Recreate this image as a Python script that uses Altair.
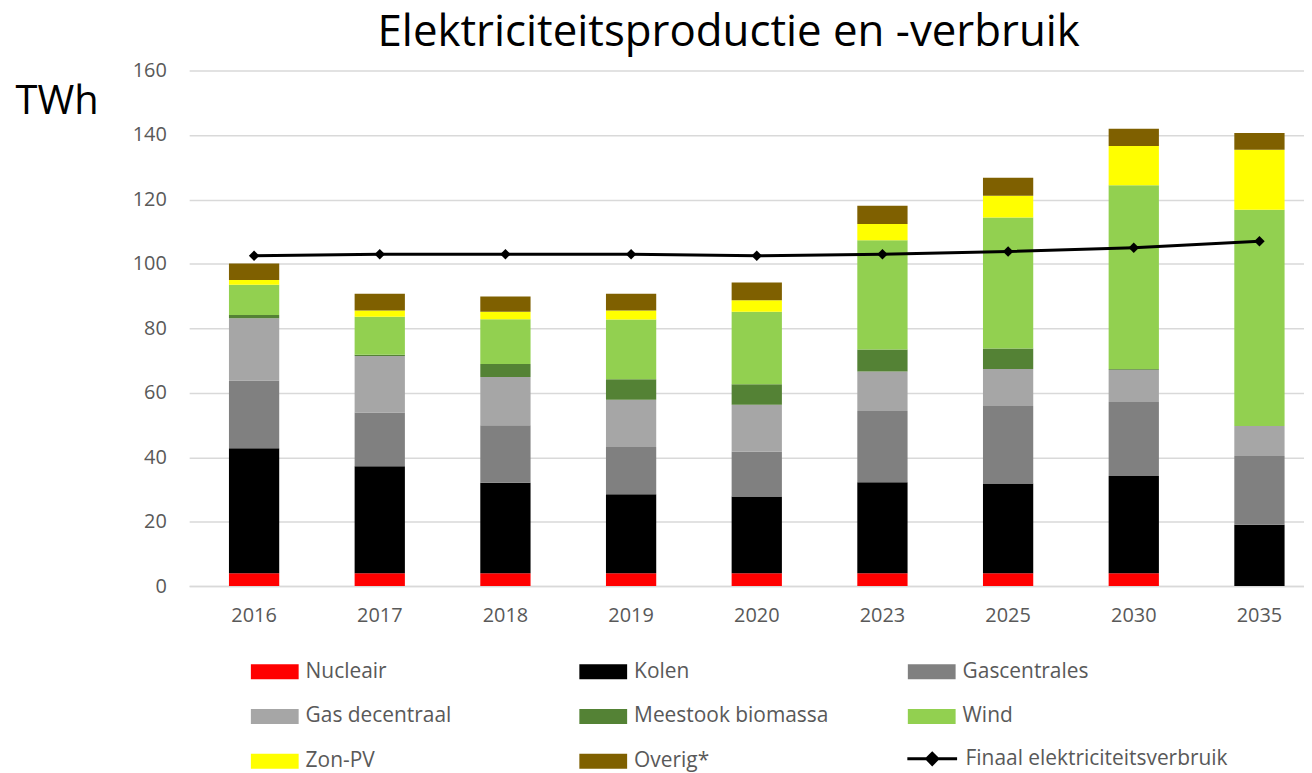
import altair as alt
import pandas as pd

years = ["2016", "2017", "2018", "2019", "2020", "2023", "2025", "2030", "2035"]
sources = ["Nucleair", "Kolen", "Gascentrales", "Gas decentraal",
           "Meestook biomassa", "Wind", "Zon-PV", "Overig*"]
colors = ["#FF0000", "#000000", "#808080", "#A6A6A6",
          "#548235", "#92D050", "#FFFF00", "#7F6000"]

nucleair = [4.0, 4.0, 4.0, 4.0, 4.0, 4.0, 4.0, 4.0, 0.0]
kolen = [38.8, 33.2, 28.1, 24.5, 23.8, 28.2, 27.8, 30.2, 19.0]
gascentrales = [21.0, 16.7, 17.8, 14.7, 13.9, 22.1, 24.1, 22.9, 21.4]
gas_decentraal = [19.3, 17.5, 15.0, 14.6, 14.6, 12.3, 11.5, 10.0, 9.3]
biomassa = [1.0, 0.4, 4.0, 6.4, 6.3, 6.8, 6.3, 0.3, 0.0]
wind = [9.4, 11.8, 13.9, 18.5, 22.5, 33.9, 40.7, 57.0, 67.1]
zon_pv = [1.5, 1.9, 2.3, 2.8, 3.6, 5.1, 6.7, 12.2, 18.6]
overig = [5.1, 5.2, 4.8, 5.2, 5.5, 5.6, 5.6, 5.3, 5.2]
verbruik = [102.5, 103.0, 103.0, 103.0, 102.5, 103.0, 103.8, 105.0, 107.0]
line_name = "Finaal elektriciteitsverbruik"

series = [nucleair, kolen, gascentrales, gas_decentraal, biomassa, wind, zon_pv, overig]
rows = []
for i, (name, vals) in enumerate(zip(sources, series)):
    for y, v in zip(years, vals):
        rows.append({"jaar": y, "bron": name, "idx": i, "waarde": v})
bars_df = pd.DataFrame(rows)
line_df = pd.DataFrame({"jaar": years, "waarde": verbruik, "serie": line_name})

FONT = "Open Sans"
TXT = "#595959"
rect_path = "M-1,-0.3125H1V0.3125H-1Z"
line_path = "M-1,0H1M0,-0.22L0.22,0L0,0.22L-0.22,0Z"

xscale = alt.Scale(paddingInner=0.6, paddingOuter=0.2356, align=0.672)
x_enc = alt.X("jaar:N", sort=years, scale=xscale,
              axis=alt.Axis(title=None, labelAngle=0, ticks=False, domainColor="#d9d9d9",
                            domainWidth=1.5, labelFontSize=20, labelColor=TXT,
                            labelFont=FONT, labelPadding=20, grid=False))
yscale = alt.Scale(domain=[0, 160], nice=False)
y_axis = alt.Axis(title="TWh", titleAngle=0, titleX=-175, titleY=43, titleAlign="left",
                  titleBaseline="alphabetic", titleFontSize=40, titleFont=FONT,
                  titleFontWeight="normal", titleColor="black",
                  values=[0, 20, 40, 60, 80, 100, 120, 140, 160], domain=False, ticks=False,
                  labelPadding=23, gridColor="#d9d9d9", gridWidth=1.5,
                  labelFontSize=20, labelColor=TXT, labelFont=FONT)

bars = alt.Chart(bars_df).mark_bar().encode(
    x=x_enc,
    y=alt.Y("waarde:Q", stack="zero", scale=yscale, axis=y_axis),
    fill=alt.Fill("bron:N", scale=alt.Scale(domain=sources, range=colors),
                  legend=alt.Legend(title=None, orient="none", legendX=62, legendY=580,
                                    direction="horizontal", columns=3, gridAlign="all",
                                    symbolType=rect_path, symbolSize=2304, symbolStrokeWidth=0,
                                    labelOffset=7, columnPadding=79, rowPadding=11,
                                    labelFontSize=21, labelColor=TXT, labelFont=FONT,
                                    padding=0, labelLimit=400)),
    order=alt.Order("idx:Q", sort="ascending"),
)

line = alt.Chart(line_df).mark_line(strokeWidth=3).encode(
    x=alt.X("jaar:N", sort=years),
    y=alt.Y("waarde:Q"),
    stroke=alt.Stroke("serie:N", scale=alt.Scale(domain=[line_name], range=["black"]),
                      legend=alt.Legend(title=None, orient="none", legendX=720, legendY=665,
                                        symbolType=line_path, symbolSize=2500,
                                        symbolStrokeWidth=3, symbolFillColor="black",
                                        symbolStrokeColor="black", labelOffset=7,
                                        labelFontSize=21, labelColor=TXT, labelFont=FONT,
                                        padding=0, labelLimit=400)),
)

points = alt.Chart(line_df).mark_point(shape="diamond", filled=True, size=110,
                                       color="black", opacity=1).encode(
    x=alt.X("jaar:N", sort=years),
    y=alt.Y("waarde:Q"),
)

chart = alt.layer(bars, line, points).properties(
    width=1120, height=518,
    autosize=alt.AutoSizeParams(type="none"),
    padding={"left": 182, "top": 61, "right": 0, "bottom": 186},
    title=alt.TitleParams("Elektriciteitsproductie en -verbruik", fontSize=44, font=FONT,
                          fontWeight="normal", color="black", anchor="middle", dx=-18,
                          dy=39, baseline="alphabetic", offset=10),
).configure_view(stroke=None)

chart.save("out.html", embed_options={"renderer": "svg", "actions": False})
